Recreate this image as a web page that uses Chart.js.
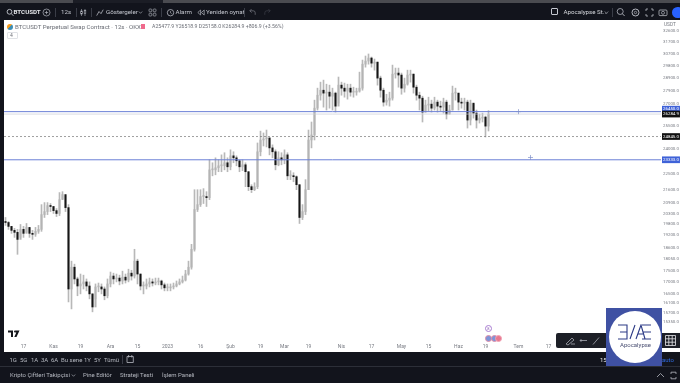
<!DOCTYPE html>
<html>
<head>
<meta charset="utf-8">
<title>BTCUSDT</title>
<script src="https://cdn.jsdelivr.net/npm/chart.js"></script>
<style>
  html, body { margin: 0; padding: 0; background: #12141c; }
  body { width: 680px; height: 383px; overflow: hidden; position: relative; font-family: Roboto, sans-serif; }
  #page { position: absolute; inset: 0; filter: blur(0.35px); }
  #plot { position: absolute; left: 4px; top: 20px; width: 676px; height: 332px; background: #fff; }
  .t { position: absolute; white-space: nowrap; line-height: 1; }
  .top { color: #c4c7cf; font-size: 6.2px; top: 9px; }
  .rng { color: #b5b8c0; font-size: 6px; top: 356.5px; }
  .tab { color: #b5b8c0; font-size: 6px; top: 372px; }
  .box { position: absolute; box-sizing: border-box; }
  .sep { position: absolute; width: 1px; height: 9px; top: 8px; background: #3a3d47; }
</style>
</head>
<body>
<div id="page">
  <div class="box" style="left:0;top:0;width:680px;height:3px;background:#4a4b50"></div>
  <div class="box" style="left:73px;top:0;width:90px;height:3px;background:#1b1d25"></div>
  <div class="box" style="left:0;top:366px;width:680px;height:1px;background:#2c2f38"></div>

  <div id="plot"><canvas id="chart" width="676" height="332"></canvas></div>

  <!-- top toolbar -->
  <svg class="box" style="left:6px;top:8px" width="8" height="9" viewBox="0 0 8 9"><circle cx="3.5" cy="3.8" r="2.4" fill="none" stroke="#c4c7cf" stroke-width=".9"/><path d="M5.3 5.6 7.4 7.8" stroke="#c4c7cf" stroke-width=".9"/></svg>
  <div class="t top" style="left:13.5px;color:#e4e6ea;font-weight:700">BTCUSDT</div>
  <svg class="box" style="left:42px;top:8px" width="9" height="9" viewBox="0 0 9 9"><circle cx="4.5" cy="4.5" r="3.5" fill="none" stroke="#b5b8c0" stroke-width=".7"/><path d="M4.5 2.8v3.4M2.8 4.5h3.4" stroke="#b5b8c0" stroke-width=".7"/></svg>
  <div class="sep" style="left:55px"></div>
  <div class="t top" style="left:61px">12s</div>
  <div class="sep" style="left:76px"></div>
  <svg class="box" style="left:80px;top:8px" width="7" height="9" viewBox="0 0 7 9"><path d="M1.5 1v7M5 1v7" stroke="#8f939c" stroke-width=".7"/><rect x=".7" y="3" width="1.6" height="3" fill="#12141c" stroke="#b5b8c0" stroke-width=".6"/><rect x="4.2" y="2.5" width="1.6" height="3" fill="#12141c" stroke="#b5b8c0" stroke-width=".6"/></svg>
  <div class="sep" style="left:91px"></div>
  <svg class="box" style="left:96px;top:8px" width="8" height="9" viewBox="0 0 8 9"><path d="M.7 7.6 3 3.5l2 2.2 2.2-4" fill="none" stroke="#b5b8c0" stroke-width=".8"/></svg>
  <div class="t top" style="left:106px">Göstergeler</div>
  <svg class="box" style="left:138px;top:10px" width="5" height="5" viewBox="0 0 5 5"><path d="M.8 1.5 2.5 3.3 4.2 1.5" fill="none" stroke="#a4a7af" stroke-width=".7"/></svg>
  <svg class="box" style="left:148px;top:8px" width="9" height="9" viewBox="0 0 9 9"><g fill="none" stroke="#a4a7af" stroke-width=".7"><rect x="1" y="1" width="2.8" height="2.8" rx=".8"/><rect x="5.2" y="1" width="2.8" height="2.8" rx=".8"/><rect x="1" y="5.2" width="2.8" height="2.8" rx=".8"/><rect x="5.2" y="5.2" width="2.8" height="2.8" rx=".8"/></g></svg>
  <div class="sep" style="left:161px"></div>
  <svg class="box" style="left:166px;top:8px" width="9" height="9" viewBox="0 0 9 9"><circle cx="4.5" cy="4.7" r="3.2" fill="none" stroke="#b5b8c0" stroke-width=".8"/><path d="M4.5 3v1.8l1.2.8" fill="none" stroke="#b5b8c0" stroke-width=".6"/></svg>
  <div class="t top" style="left:175.5px">Alarm</div>
  <svg class="box" style="left:197px;top:9px" width="8" height="7" viewBox="0 0 8 7"><path d="M3.6 1 .8 3.5 3.6 6zM7.2 1 4.4 3.5 7.2 6z" fill="none" stroke="#b5b8c0" stroke-width=".7"/></svg>
  <div class="t top" style="left:206px">Yeniden oynat</div>
  <div class="sep" style="left:244px"></div>
  <svg class="box" style="left:249px;top:8px" width="7" height="8" viewBox="0 0 7 8"><path d="M2.6 1 .8 2.8l1.8 1.8M.8 2.8h3.4a2 2 0 0 1 2 2v2" fill="none" stroke="#7b7e87" stroke-width=".7"/></svg>
  <svg class="box" style="left:264px;top:8px" width="7" height="8" viewBox="0 0 7 8"><path d="M4.4 1l1.8 1.8-1.8 1.8M6.2 2.8H2.8a2 2 0 0 0-2 2v2" fill="none" stroke="#3e414a" stroke-width=".7"/></svg>

  <div class="box" style="left:551px;top:8px;width:7px;height:7px;border:.8px solid #c4c7cf;border-radius:1px"></div>
  <div class="t top" style="left:563.5px;color:#d6d8dd">Apocalypse St...</div>
  <svg class="box" style="left:604px;top:10px" width="5" height="5" viewBox="0 0 5 5"><path d="M.8 1.5 2.5 3.3 4.2 1.5" fill="none" stroke="#a4a7af" stroke-width=".7"/></svg>
  <div class="sep" style="left:612px"></div>
  <svg class="box" style="left:616px;top:7px" width="10" height="10" viewBox="0 0 10 10"><circle cx="4.2" cy="4.5" r="3" fill="none" stroke="#b5b8c0" stroke-width=".8"/><path d="M6.4 6.7 8.6 9" stroke="#b5b8c0" stroke-width=".9"/></svg>
  <svg class="box" style="left:631px;top:8px" width="9" height="9" viewBox="0 0 9 9"><circle cx="4.5" cy="4.5" r="3.5" fill="none" stroke="#b5b8c0" stroke-width="1"/><circle cx="4.5" cy="4.5" r="1.2" fill="none" stroke="#b5b8c0" stroke-width=".7"/></svg>
  <svg class="box" style="left:645px;top:8px" width="9" height="9" viewBox="0 0 9 9"><path d="M1 3V1h2M6 1h2v2M8 6v2H6M3 8H1V6" fill="none" stroke="#b5b8c0" stroke-width=".8"/></svg>
  <svg class="box" style="left:658px;top:8px" width="10" height="9" viewBox="0 0 10 9"><rect x="1" y="2" width="8" height="5.6" rx="1" fill="none" stroke="#b5b8c0" stroke-width=".8"/><circle cx="5" cy="4.8" r="1.5" fill="none" stroke="#b5b8c0" stroke-width=".7"/></svg>
  <div class="box" style="left:672px;top:7px;width:12px;height:11px;border-radius:6px;background:#2962ff"></div>

  <!-- legend -->
  <div class="box" style="left:7px;top:23.5px;width:6px;height:6px;border-radius:3px;background:linear-gradient(135deg,#f39a1f 50%,#3f8fb5 50%)"></div>
  <div class="t" style="left:15px;top:23.5px;font-size:6.1px;color:#6a6d75">BTCUSDT Perpetual Swap Contract · 12s · OKX</div>
  <div class="box" style="left:141px;top:24px;width:4px;height:5px;background:#ef6a8c"></div>
  <div class="t" style="left:152px;top:24px;font-size:5.2px;color:#6a6d75">A25477.9 Y26518.9 D25158.0 K26284.9 +806.9 (+3.56%)</div>
  <div class="box" style="left:7px;top:32px;width:11px;height:7px;border:.6px solid #e0e2e6;border-radius:1px"></div>
  <div class="t" style="left:10px;top:33px;font-size:5px;color:#6a6d75">4</div>
  <div class="t" style="left:664px;top:22.5px;font-size:4.8px;color:#777a82">USDT</div>

  <!-- markers and logo in the plot -->
  <svg class="box" style="left:8px;top:329.5px" width="12" height="8" viewBox="0 0 12 8"><path d="M0 .5h5v6.5H3V2.5H0zM7.5.5h4l-3 6.5H6.3l2-4.5H7.5z" fill="#15171c"/><circle cx="7" cy="1.6" r="1" fill="#15171c"/></svg>
  <div class="box" style="left:485px;top:325px;width:7px;height:7px;border:.7px solid #a77bd0;border-radius:4px"></div>
  <div class="t" style="left:487.3px;top:326.5px;font-size:4px;color:#8d63b5">8</div>
  <div class="box" style="left:485px;top:334.5px;width:7px;height:7px;border-radius:4px;background:#7d94d8;border:.7px solid #e08da7"></div>
  <div class="box" style="left:491px;top:334.5px;width:7px;height:7px;border-radius:4px;background:#7d94d8;border:.7px solid #e08da7"></div>
  <div class="box" style="left:495px;top:334.5px;width:7px;height:7px;border-radius:4px;background:#e8788f;border:.7px solid #f0a3b5"></div>

  <div class="box" style="left:556px;top:333px;width:56px;height:15px;border-radius:2px;background:#1d1f27"></div>
  <svg class="box" style="left:565px;top:335px" width="40" height="11" viewBox="0 0 40 11"><g fill="none" stroke="#a7aab2" stroke-width=".8"><path d="M1 9 7 3l2 2-6 5zM6 9h4"/><path d="M15 5.5h7"/><circle cx="16" cy="5.5" r=".8"/><path d="M28 9.5l6-7"/></g></svg>

  <!-- bottom bars -->
  <div class="t rng" style="left:9.5px">1G</div>
  <div class="t rng" style="left:20px">5G</div>
  <div class="t rng" style="left:31px">1A</div>
  <div class="t rng" style="left:41px">3A</div>
  <div class="t rng" style="left:51px">6A</div>
  <div class="t rng" style="left:61px">Bu sene</div>
  <div class="t rng" style="left:84px">1Y</div>
  <div class="t rng" style="left:94px">5Y</div>
  <div class="t rng" style="left:104px">Tümü</div>
  <div class="box" style="left:122px;top:355px;width:1px;height:9px;background:#3a3d47"></div>
  <svg class="box" style="left:125px;top:354px" width="10" height="10" viewBox="0 0 10 10"><path d="M2 2.5h6.3v6H2zM3.6 1v2.5M6.8 1v2.5" fill="none" stroke="#b5b8c0" stroke-width=".8"/></svg>
  <div class="t rng" style="left:600px;color:#e8e9ec">15</div>
  <div class="t rng" style="left:662px;color:#2f6ae0">auto</div>

  <div class="t tab" style="left:10px">Kripto Çiftleri Takipçisi</div>
  <svg class="box" style="left:71px;top:373px" width="5" height="5" viewBox="0 0 5 5"><path d="M.8 1.5 2.5 3.3 4.2 1.5" fill="none" stroke="#a4a7af" stroke-width=".7"/></svg>
  <div class="t tab" style="left:83px">Pine Editör</div>
  <div class="t tab" style="left:120px">Strateji Testi</div>
  <div class="t tab" style="left:162px">İşlem Paneli</div>
  <svg class="box" style="left:656px;top:371px" width="22" height="9" viewBox="0 0 22 9"><g fill="none" stroke="#b5b8c0" stroke-width=".8"><path d="M1 6l3.5-3.5L8 6"/><path d="M15 3V1.2h5V3M15 6v1.8h5V6"/></g></svg>

  <!-- channel logo -->
  <div class="box" style="left:606px;top:308px;width:56px;height:58px;background:#3f51a3"></div>
  <div class="box" style="left:609px;top:311px;width:52px;height:52px;border-radius:26px;background:#fff"></div>
  <svg class="box" style="left:617px;top:324px" width="35" height="17" viewBox="0 0 35 17"><g fill="none" stroke="#2c3a86" stroke-width="1.1"><path d="M1 1h9v14H1M3 8h7M13 15 18 1M19 15l5-14 4 14M21 10h6M34 1h-9M34 15h-9M34 8h-8"/></g></svg>
  <div class="t" style="left:620px;top:342px;font-size:6px;color:#4a4f72">Apocalypse</div>
  <div class="box" style="left:662px;top:333px;width:18px;height:15px;background:#1d1f27"></div>
  <svg class="box" style="left:665px;top:335px" width="11" height="11" viewBox="0 0 11 11"><path d="M.5.5h10v10H.5zM.5 3.8h10M.5 7.2h10M3.8.5v10M7.2.5v10" fill="none" stroke="#e8e9ec" stroke-width=".8"/></svg>
</div>

<script>
// values, one candle per 3px of the reference
const closes = [
  19850, 19650, 19450, 19350, 19000, 19500, 19300, 19600, 19300, 19250,
  19400, 19500, 20260, 20420, 20740, 20690, 20470, 20320, 21060, 21340,
  20630, 16710, 17680, 17150, 16840, 16930, 17020, 16840, 16500, 15950,
  16800, 16800, 16710, 16420, 16930, 17280, 17150, 17190, 17060, 17230,
  17100, 17410, 17280, 17960, 17370, 16840, 16840, 16930, 17020, 16970,
  17020, 17060, 16890, 16760, 16760, 16800, 16840, 16930, 17020, 17100,
  17370, 17680, 18520, 20530, 20790, 21230, 21230, 21170, 22750, 22750,
  22870, 22990, 22990, 23170, 22930, 23590, 23470, 23290, 22930, 23050,
  22640, 21780, 21610, 21780, 23840, 24580, 24650, 24710, 24080, 23840,
  23050, 23470, 23350, 23650, 22400, 22400, 22350, 21890, 20110, 20420,
  21610, 24580, 24900, 26690, 27600, 27960, 27750, 27820, 27530, 27750,
  26830, 28330, 28110, 27890, 28110, 27820, 27820, 27890, 28110, 29910,
  30150, 30390, 29990, 30070, 28850, 27960, 27110, 27250, 27390, 29150,
  29230, 29080, 28110, 28400, 29080, 29150, 28180, 27600, 27390, 26420,
  26900, 26970, 26690, 27110, 26830, 26760, 27110, 26285, 26560, 27750,
  27750, 27110, 27040, 27110, 25880, 27040, 26350, 25880, 26010, 26080, 25478, 26285,
];
const highs = [
  20110, 19900, 19650, 19550, 19500, 19750, 19650, 19800, 19550, 19450,
  19600, 19700, 20790, 20900, 20900, 20850, 20690, 20580, 21450, 21500,
  21280, 20790, 17960, 17820, 17230, 17370, 17320, 17150, 17020, 16500,
  16930, 16970, 16930, 16800, 17150, 17460, 17410, 17370, 17320, 17500,
  17370, 17590, 17540, 18520, 18050, 17370, 17020, 17150, 17190, 17150,
  17190, 17190, 17100, 16970, 16930, 16930, 16970, 17060, 17150, 17280,
  17540, 17960, 18760, 21610, 21610, 21610, 21670, 21500, 23350, 23170,
  23470, 23350, 23650, 23780, 23470, 23960, 23840, 23590, 23350, 23350,
  23170, 22640, 21890, 22000, 24390, 25150, 25030, 25220, 24710, 24270,
  23960, 23840, 23780, 23960, 23780, 22700, 22580, 22400, 21890, 20790,
  22180, 25220, 25750, 27250, 28110, 28550, 28700, 28400, 28330, 28110,
  27820, 28930, 28550, 28480, 28400, 28400, 28180, 28110, 29300, 30230,
  30550, 30710, 30470, 30310, 30070, 29000, 28110, 27670, 27820, 29840,
  29610, 29610, 29230, 28850, 29450, 29450, 29150, 28330, 27820, 27530,
  27250, 27460, 27250, 27460, 27250, 27180, 27390, 27250, 26900, 28260,
  28110, 27750, 27390, 27390, 27250, 27250, 26970, 26560, 26285, 26350, 26150, 26519,
];
const lows = [
  19700, 19500, 19300, 19100, 18280, 19100, 19100, 19350, 19100, 19000,
  19150, 19300, 19400, 20110, 20260, 20420, 20320, 20160, 20210, 21110,
  20420, 16160, 15870, 16930, 16420, 16500, 16710, 16630, 16290, 15750,
  16290, 16590, 16500, 16250, 16330, 16800, 16930, 17020, 16890, 16930,
  16970, 17020, 17100, 17190, 16930, 16670, 16500, 16710, 16800, 16840,
  16890, 16890, 16710, 16630, 16630, 16630, 16710, 16800, 16890, 16970,
  17060, 17320, 17590, 18430, 20420, 20690, 20850, 20690, 21060, 22400,
  22460, 22640, 22640, 22750, 22640, 22750, 23170, 22990, 22640, 22700,
  21780, 21560, 21450, 21560, 21670, 23590, 24200, 24140, 23650, 23470,
  22750, 22990, 23050, 23110, 22180, 22180, 22060, 21610, 19800, 20000,
  20260, 21610, 24080, 24580, 26560, 27250, 26760, 26560, 26690, 26560,
  26420, 27040, 27600, 27460, 27320, 27530, 27460, 27600, 27820, 27960,
  29680, 29910, 29680, 29450, 28330, 27460, 26830, 26900, 26830, 27250,
  28850, 28180, 27670, 27820, 28330, 28550, 27750, 27250, 26560, 25750,
  26420, 26490, 26420, 26560, 26420, 26490, 26350, 25950, 26285, 26560,
  27250, 26560, 26690, 26560, 25350, 25550, 26010, 25350, 25680, 25750, 24770, 25158,
];
const firstOpen = 19900;

// months under the chart, placed by candle slot
const monthLabels = ["17", "Kas", "19", "Ara", "15", "2023", "16", "Şub", "19", "Mar", "19", "Nis", "17", "May", "15", "Haz", "19", "Tem", "17"];
const monthSlots = [6, 16, 25, 35, 44, 54, 65, 75, 85, 93, 101, 112, 122, 132, 141, 151, 160, 171, 181];

// price axis
const priceTicks = [32600, 31700, 30700, 29800, 28900, 27900, 27000, 25500, 24000, 22500, 21600, 20900, 20300, 19800, 19200, 18600, 18050, 17500, 17000, 16500, 16100, 15700, 15350];
const tagValues = [26620, 26285, 24800, 23350];
const tagLabels = ["26450.0", "26284.9", "24845.0", "23333.0"];
const tagColors = ["#3f62d8", "#111111", "#111111", "#3f62d8"];

const blueLevels = [26450, 23350];
const dashedLevel = 24800;
const lastPrice = 26285;
const handleSlots = [171, 175];

const slotCount = 219;
const categories = [];
for (let i = 0; i < slotCount; i++) {
  const m = monthSlots.indexOf(i);
  categories.push(m >= 0 ? monthLabels[m] : "");
}

const opens = closes.map((c, i) => (i === 0 ? firstOpen : closes[i - 1]));
const bodyColors = closes.map((c, i) => (c >= opens[i] ? "#b4b4b4" : "#161616"));

function levelLine(value, color, dash, width) {
  return {
    type: "line",
    xAxisID: "xLine",
    data: [{ x: 0, y: value }, { x: 1, y: value }],
    borderColor: color,
    borderWidth: width,
    borderDash: dash,
    pointRadius: 0,
    order: 1,
  };
}

function handleMarks(slot, value) {
  const data = categories.map((c, i) => (i === slot ? value : null));
  return {
    type: "line",
    data: data,
    showLine: false,
    pointStyle: "cross",
    pointRadius: 2.5,
    pointBorderColor: "#7f8fc8",
    pointBorderWidth: 0.7,
    order: 0,
  };
}

// tick labels must not shrink the plot area
function noPadding(scale) {
  scale.paddingTop = 0;
  scale.paddingBottom = 0;
  scale.paddingLeft = 0;
  scale.paddingRight = 0;
}

new Chart(document.getElementById("chart").getContext("2d"), {
  type: "bar",
  data: {
    labels: categories,
    datasets: [
      {
        data: highs.map((h, i) => [lows[i], h]),
        backgroundColor: "#b8b8b8",
        barThickness: 1,
        grouped: false,
        order: 4,
      },
      {
        data: closes.map((c, i) => [opens[i], c]),
        backgroundColor: bodyColors,
        barThickness: 1.4,
        minBarLength: 1,
        grouped: false,
        order: 3,
      },
      levelLine(blueLevels[0], "#6a7fd6", [], 1),
      levelLine(blueLevels[1], "#6a7fd6", [], 1),
      levelLine(lastPrice, "#c9ccd6", [], 0.7),
      levelLine(dashedLevel, "#777777", [2, 2], 0.7),
      handleMarks(handleSlots[0], blueLevels[0]),
      handleMarks(handleSlots[1], blueLevels[1] * 1.006),
    ],
  },
  options: {
    responsive: false,
    animation: false,
    events: [],
    layout: { padding: 0, autoPadding: false },
    plugins: { legend: { display: false }, title: { display: false }, tooltip: { enabled: false } },
    scales: {
      x: {
        grid: { display: false, drawTicks: false },
        border: { display: false },
        afterFit: (scale) => { scale.height = 10; noPadding(scale); },
        ticks: {
          autoSkip: false,
          maxRotation: 0,
          padding: 2,
          color: "#777a82",
          font: { family: "Roboto", size: 5 },
        },
      },
      xLine: { type: "linear", min: 0, max: 1, offset: false, display: false },
      y: {
        type: "logarithmic",
        position: "right",
        min: 14567,
        max: 33535,
        grid: { display: false, drawTicks: false },
        border: { display: false },
        afterFit: (scale) => { scale.width = 19; noPadding(scale); },
        afterBuildTicks: (scale) => {
          scale.ticks = priceTicks.concat(tagValues).map((v) => ({ value: v }));
        },
        ticks: {
          autoSkip: false,
          padding: 2,
          callback: (v) => {
            const t = tagValues.indexOf(v);
            return t >= 0 ? tagLabels[t] : v.toFixed(1);
          },
          color: (ctx) => (tagValues.includes(ctx.tick.value) ? "#ffffff" : "#777a82"),
          font: { family: "Roboto", size: 4.4 },
          showLabelBackdrop: (ctx) => tagValues.includes(ctx.tick.value),
          backdropColor: (ctx) => {
            const t = tagValues.indexOf(ctx.tick.value);
            return t >= 0 ? tagColors[t] : "rgba(0,0,0,0)";
          },
          backdropPadding: { x: 1, y: 0.7 },
        },
      },
    },
  },
});
</script>
</body>
</html>
